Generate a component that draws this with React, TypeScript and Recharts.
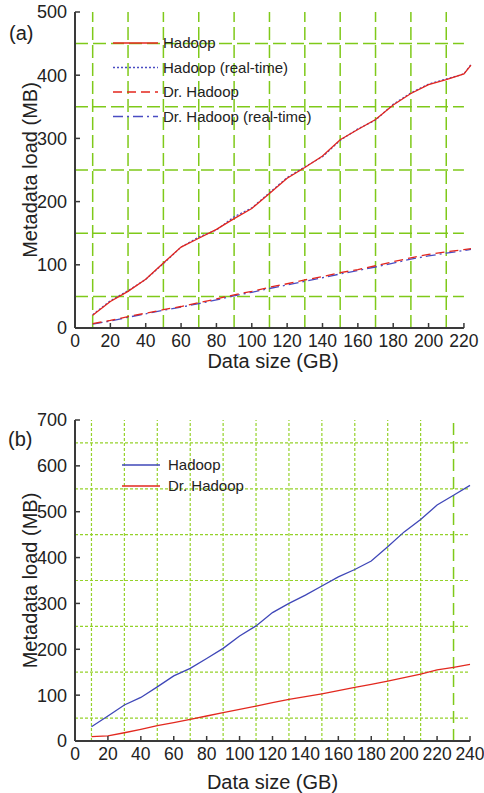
import React from 'react';
import { LineChart, Line, XAxis, YAxis, ReferenceLine, Legend } from 'recharts';

// ---------- Panel (a) data ----------
const sizesA = [10, 20, 30, 40, 50, 60, 70, 80, 90, 100, 110, 120, 130, 140, 150, 160, 170, 180, 190, 200, 210, 220, 224];
const hadoopA = [20, 42, 58, 77, 103, 128, 142, 156, 173, 189, 213, 237, 254, 272, 298, 314, 330, 353, 371, 385, 393, 402, 416];
const hadoopRealtimeA = [21, 43, 59, 77, 102, 128, 144, 155, 176, 190, 214, 238, 255, 271, 297, 315, 329, 354, 372, 386, 394, 402, 417];
const drHadoopA = [7, 12, 18, 23.5, 29, 34, 40, 46, 52.5, 58, 64.5, 70, 76, 81.5, 87.5, 92.5, 98.5, 105, 111, 116.5, 120.5, 124, 125.5];
const drHadoopRealtimeA = [6, 11, 17, 22.5, 28, 33, 38.5, 44.5, 51, 56.5, 62.5, 68, 74, 79.5, 85.5, 91, 96.5, 102.5, 109, 114, 118.5, 122.5, 124.5];
const xTicksA = [0, 20, 40, 60, 80, 100, 120, 140, 160, 180, 200, 220];
const yTicksA = [0, 100, 200, 300, 400, 500];
const gridXA = [10, 30, 50, 70, 90, 110, 130, 150, 170, 190, 210];
const gridYA = [50, 150, 250, 350, 450];

// ---------- Panel (b) data ----------
const sizesB = [10, 20, 30, 40, 50, 60, 70, 80, 90, 100, 110, 120, 130, 140, 150, 160, 170, 180, 190, 200, 210, 220, 230, 240];
const hadoopB = [31, 54.5, 78.5, 95, 118, 142, 158.5, 180, 202, 229, 251, 280, 300, 318, 338, 358, 374, 392.5, 423.5, 456, 483, 514.5, 536, 557.5];
const drHadoopB = [9.4, 11, 18, 25.4, 33.4, 40, 47, 54.5, 61.8, 69, 76, 83.5, 91, 96.6, 103, 109.7, 117, 123.6, 130.8, 138, 146, 155, 160.7, 167];
const xTicksB = [0, 20, 40, 60, 80, 100, 120, 140, 160, 180, 200, 220, 240];
const yTicksB = [0, 100, 200, 300, 400, 500, 600, 700];
const gridXB = [10, 30, 50, 70, 90, 110, 130, 150, 170, 190, 210];
const gridXDashedB = [230];
const gridYB = [50, 150, 250, 350, 450, 550, 650];

const dataA = sizesA.map((x, i) => ({
  x,
  hadoop: hadoopA[i],
  hadoopRt: hadoopRealtimeA[i],
  dr: drHadoopA[i],
  drRt: drHadoopRealtimeA[i],
}));
const dataB = sizesB.map((x, i) => ({ x, hadoop: hadoopB[i], dr: drHadoopB[i] }));

const FONT = '"Liberation Sans", Arial, sans-serif';
const AXIS = '#3a3a3a';
const TEXT = '#222';
const RED = '#e3261d';
const BLUE = '#4a4cc2';
const GREEN_A = '#7fc91a';
const GREEN_B = '#95d22a';

const seriesA = [
  { key: 'hadoop', name: 'Hadoop', color: RED, dash: undefined as string | undefined },
  { key: 'hadoopRt', name: 'Hadoop (real-time)', color: BLUE, dash: '2 2' },
  { key: 'dr', name: 'Dr. Hadoop', color: RED, dash: '9 5' },
  { key: 'drRt', name: 'Dr. Hadoop (real-time)', color: BLUE, dash: '10 4 2 4' },
];
const drawOrderA = ['hadoopRt', 'hadoop', 'drRt', 'dr'];

const seriesB = [
  { key: 'hadoop', name: 'Hadoop', color: '#3f47b8', dash: undefined as string | undefined },
  { key: 'dr', name: 'Dr. Hadoop', color: '#e2291f', dash: undefined as string | undefined },
];

const xTickStyle = { fontSize: 17.5, fill: TEXT, fontFamily: FONT };
const yTickStyle = { fontSize: 18, fill: TEXT, fontFamily: FONT };
const axisLabelStyle = { fontSize: 20, fill: TEXT, fontFamily: FONT, textAnchor: 'middle' as const };

function makeLegend(series: typeof seriesA, lineLen: number, rowGap: number, textX: number) {
  return () => (
    <svg width={220} height={series.length * rowGap + 10} style={{ display: 'block', overflow: 'visible' }}>
      {series.map((s, i) => {
        const y = 10 + i * rowGap;
        return (
          <g key={s.key}>
            <line x1={0} x2={lineLen} y1={y} y2={y} stroke={s.color} strokeWidth={1.5} strokeDasharray={s.dash} />
            <text x={textX} y={y} dy="0.36em" fontSize={15} fill={TEXT} fontFamily={FONT}>
              {s.name}
            </text>
          </g>
        );
      })}
    </svg>
  );
}

function ChartA() {
  return (
    <LineChart width={484} height={385} data={dataA} margin={{ top: 12, right: 13, bottom: 0, left: 0 }}>
      <XAxis
        dataKey="x"
        type="number"
        domain={[0, 224]}
        ticks={xTicksA}
        interval={0}
        axisLine={false}
        tickSize={-5}
        tickMargin={12}
        tickLine={{ stroke: AXIS, strokeWidth: 1.5 }}
        tick={xTickStyle}
        height={57}
        label={{ value: 'Data size (GB)', position: 'insideBottom', offset: 17, style: axisLabelStyle }}
      />
      <YAxis
        type="number"
        domain={[0, 500]}
        ticks={yTicksA}
        interval={0}
        width={75}
        axisLine={{ stroke: AXIS, strokeWidth: 2 }}
        tickSize={-5}
        tickMargin={13}
        tickLine={{ stroke: AXIS, strokeWidth: 1.5 }}
        tick={yTickStyle}
        label={{ value: 'Metadata load (MB)', angle: -90, position: 'insideLeft', offset: 30, style: axisLabelStyle }}
      />
      {gridYA.map((v) => (
        <ReferenceLine key={'gy' + v} segment={[{ x: 0, y: v }, { x: 220, y: v }]} stroke={GREEN_A} strokeWidth={1.5} strokeDasharray="13 5" />
      ))}
      {gridXA.map((v) => (
        <ReferenceLine key={'gx' + v} x={v} stroke={GREEN_A} strokeWidth={1.5} strokeDasharray="13 5" />
      ))}
      <ReferenceLine segment={[{ x: 0, y: 0 }, { x: 220, y: 0 }]} stroke={AXIS} strokeWidth={2} />
      {drawOrderA.map((k) => {
        const s = seriesA.find((q) => q.key === k)!;
        return (
          <Line
            key={k}
            type="linear"
            dataKey={k}
            name={s.name}
            stroke={s.color}
            strokeWidth={1.3}
            strokeDasharray={s.dash}
            dot={false}
            isAnimationActive={false}
          />
        );
      })}
      <Legend
        layout="vertical"
        align="center"
        verticalAlign="middle"
        content={makeLegend(seriesA, 45, 24.5, 50)}
        wrapperStyle={{ left: 113, top: 33, width: 230, height: 110 }}
      />
    </LineChart>
  );
}

function ChartB() {
  return (
    <LineChart width={484} height={403} data={dataB} margin={{ top: 30, right: 14, bottom: 0, left: 0 }}>
      <XAxis
        dataKey="x"
        type="number"
        domain={[0, 240]}
        ticks={xTicksB}
        interval={0}
        axisLine={{ stroke: AXIS, strokeWidth: 2 }}
        tickSize={-5}
        tickMargin={12}
        tickLine={{ stroke: AXIS, strokeWidth: 1.5 }}
        tick={xTickStyle}
        height={52}
        label={{ value: 'Data size (GB)', position: 'insideBottom', offset: 4, style: axisLabelStyle }}
      />
      <YAxis
        type="number"
        domain={[0, 700]}
        ticks={yTicksB}
        interval={0}
        width={75}
        axisLine={{ stroke: AXIS, strokeWidth: 2 }}
        tickSize={-5}
        tickMargin={13}
        tickLine={{ stroke: AXIS, strokeWidth: 1.5 }}
        tick={yTickStyle}
        label={{ value: 'Metadata load (MB)', angle: -90, position: 'insideLeft', offset: 30, style: axisLabelStyle }}
      />
      {gridYB.map((v) => (
        <ReferenceLine key={'gy' + v} y={v} stroke={GREEN_B} strokeWidth={1.2} strokeDasharray="3 2" />
      ))}
      {gridXB.map((v) => (
        <ReferenceLine key={'gx' + v} x={v} stroke={GREEN_B} strokeWidth={1.2} strokeDasharray="3 2" />
      ))}
      {gridXDashedB.map((v) => (
        <ReferenceLine key={'gxd' + v} x={v} stroke={GREEN_A} strokeWidth={1.5} strokeDasharray="12 6" />
      ))}
      {seriesB.map((s) => (
        <Line
          key={s.key}
          type="linear"
          dataKey={s.key}
          name={s.name}
          stroke={s.color}
          strokeWidth={1.3}
          dot={false}
          isAnimationActive={false}
        />
      ))}
      <Legend
        layout="vertical"
        align="center"
        verticalAlign="middle"
        content={makeLegend(seriesB, 38, 21, 46)}
        wrapperStyle={{ left: 122, top: 65, width: 200, height: 60 }}
      />
    </LineChart>
  );
}

export default function App() {
  return (
    <div style={{ position: 'absolute', left: 0, top: 0, width: 484, height: 793, background: '#fff', overflow: 'hidden' }}>
      <div style={{ position: 'absolute', left: 0, top: 0 }}>
        <ChartA />
      </div>
      <div style={{ position: 'absolute', left: 0, top: 390 }}>
        <ChartB />
      </div>
      <svg width={484} height={793} style={{ position: 'absolute', left: 0, top: 0, pointerEvents: 'none' }}>
        <text x={9} y={40} fontSize={20} fill={TEXT} fontFamily={FONT}>(a)</text>
        <text x={8} y={446} fontSize={20} fill={TEXT} fontFamily={FONT}>(b)</text>
      </svg>
    </div>
  );
}
